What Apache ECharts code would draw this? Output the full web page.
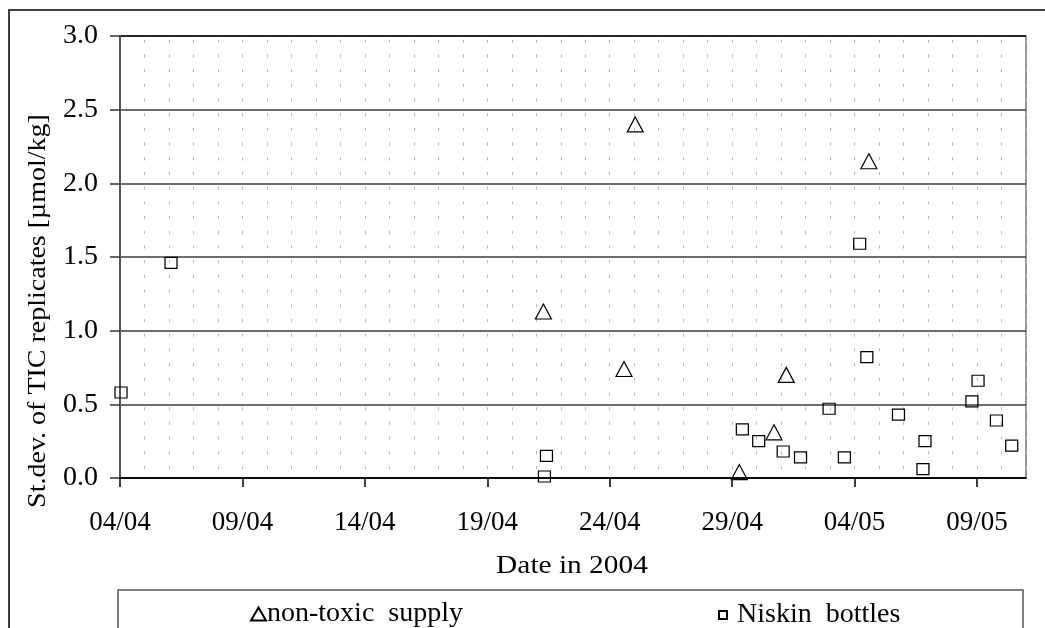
<!DOCTYPE html>
<html>
<head>
<meta charset="utf-8">
<script src="https://cdn.jsdelivr.net/npm/echarts@6/dist/echarts.min.js"></script>
<style>
  html, body { margin: 0; padding: 0; background: #fff; }
  #chart { width: 1045px; height: 628px; }
</style>
</head>
<body>
<div id="chart"></div>
<script>
// Sampling times (UTC) and standard deviations of TIC replicates [µmol/kg]
const supplyTimes = [
  '2004-04-21 07:00', '2004-04-24 14:00', '2004-04-25 01:00', '2004-04-29 07:00',
  '2004-04-30 17:00', '2004-05-01 05:00', '2004-05-04 14:00'
];
const supplyValues = [1.13, 0.74, 2.40, 0.04, 0.31, 0.70, 2.15];

const niskinTimes = [
  '2004-04-04 01:00', '2004-04-06 02:00', '2004-04-21 08:00', '2004-04-21 10:00',
  '2004-04-29 10:00', '2004-04-30 02:00', '2004-05-01 02:00', '2004-05-01 19:00',
  '2004-05-02 23:00', '2004-05-03 14:00', '2004-05-04 05:00', '2004-05-04 12:00',
  '2004-05-05 19:00', '2004-05-06 19:00', '2004-05-06 21:00', '2004-05-08 19:00',
  '2004-05-09 01:00', '2004-05-09 19:00', '2004-05-10 10:00'
];
const niskinValues = [
  0.58, 1.46, 0.01, 0.15,
  0.33, 0.25, 0.18, 0.14,
  0.47, 0.14, 1.59, 0.82,
  0.43, 0.06, 0.25, 0.52,
  0.66, 0.39, 0.22
];

const seriesNames = ['non-toxic  supply', 'Niskin  bottles'];
const xAxisTitle = 'Date in 2004';
const yAxisTitle = 'St.dev. of TIC replicates [µmol/kg]';

// x axis runs in days since 04/04/2004 00:00 UTC
const ORIGIN = Date.UTC(2004, 3, 4);
const DAY = 86400000;
const X_MAX_DAYS = 37; // 11/05

function dayOffset(s) {
  const [d, t] = s.split(' ');
  const [Y, M, D] = d.split('-').map(Number);
  const [h, m] = t.split(':').map(Number);
  return (Date.UTC(Y, M - 1, D, h, m) - ORIGIN) / DAY;
}
function dayLabel(v) {
  const dt = new Date(ORIGIN + v * DAY);
  const dd = String(dt.getUTCDate()).padStart(2, '0');
  const mm = String(dt.getUTCMonth() + 1).padStart(2, '0');
  return dd + '/' + mm;
}
const pair = (times, vals) => times.map((t, i) => [dayOffset(t), vals[i]]);

const FONT = '"Liberation Serif", "Times New Roman", serif';
const dotted = { color: '#b8b8b8', width: 1, type: [3, 11.7], dashOffset: 11 };

const chart = echarts.init(document.getElementById('chart'), null, { renderer: 'canvas' });
chart.setOption({
  animation: false,
  backgroundColor: '#fff',
  grid: {
    left: 120, right: 19, top: 36, bottom: 150,
    show: true, borderColor: '#777', borderWidth: 1.5, backgroundColor: 'transparent'
  },
  xAxis: {
    type: 'value',
    min: 0, max: X_MAX_DAYS, interval: 5,
    axisLine: { show: true, onZero: false, lineStyle: { color: '#000', width: 1.5 } },
    axisTick: { show: true, length: 9, lineStyle: { color: '#000', width: 1.5 } },
    axisLabel: {
      fontFamily: FONT, fontSize: 27, color: '#000', margin: 31,
      showMaxLabel: false,
      formatter: v => dayLabel(v)
    },
    splitLine: { show: true, lineStyle: dotted },
    minorTick: { show: false, splitNumber: 5 },
    minorSplitLine: { show: true, lineStyle: dotted }
  },
  yAxis: {
    type: 'value',
    min: 0, max: 3, interval: 0.5,
    axisLine: { show: true, lineStyle: { color: '#555', width: 2 } },
    axisTick: { show: true, length: 10, lineStyle: { color: '#333', width: 1.5 } },
    axisLabel: {
      fontFamily: FONT, fontSize: 28, color: '#000', margin: 22,
      formatter: v => v.toFixed(1)
    },
    splitLine: {
      show: true,
      lineStyle: {
        color: ['#000', '#3c3c3c', '#3c3c3c', '#3c3c3c', '#3c3c3c', '#3c3c3c', '#000'],
        width: 1.5
      }
    }
  },
  legend: [
    {
      data: [seriesNames[0]],
      left: 245, top: 595,
      itemWidth: 15, itemHeight: 13, itemGap: 0,
      textStyle: { fontFamily: FONT, fontSize: 28, color: '#000', padding: [0, 0, 0, -4] },
      selectedMode: false
    },
    {
      data: [seriesNames[1]],
      left: 713, top: 596,
      itemWidth: 8, itemHeight: 8, itemGap: 0,
      textStyle: { fontFamily: FONT, fontSize: 28, color: '#000', padding: [0, 0, 0, 5] },
      selectedMode: false
    }
  ],
  series: [
    {
      name: seriesNames[0],
      type: 'scatter',
      symbol: 'triangle',
      symbolSize: [16, 15],
      data: pair(supplyTimes, supplyValues),
      itemStyle: { color: 'rgba(255,255,255,0)', borderColor: '#000', borderWidth: 1.2, opacity: 1 },
      emphasis: { disabled: true },
      z: 5
    },
    {
      name: seriesNames[1],
      type: 'scatter',
      symbol: 'rect',
      symbolSize: [12, 11],
      data: pair(niskinTimes, niskinValues),
      itemStyle: { color: 'rgba(255,255,255,0)', borderColor: '#000', borderWidth: 1.2, opacity: 1 },
      emphasis: { disabled: true },
      z: 5
    }
  ],
  graphic: [
    // outer chart frame
    {
      type: 'rect', silent: true,
      shape: { x: 9, y: 10, width: 1100, height: 700 },
      style: { fill: 'none', stroke: '#000', lineWidth: 1.5 }
    },
    // legend frame
    {
      type: 'rect', silent: true,
      shape: { x: 118, y: 590, width: 905, height: 80 },
      style: { fill: 'none', stroke: '#555', lineWidth: 1.5 }
    },
    // y axis title
    {
      type: 'text', silent: true,
      x: 38, y: 311, rotation: Math.PI / 2, scaleX: 1.12,
      style: {
        text: yAxisTitle, font: '25px ' + FONT, fill: '#000',
        align: 'center', verticalAlign: 'middle'
      }
    },
    // x axis title
    {
      type: 'text', silent: true,
      x: 572, y: 566, scaleX: 1.13,
      style: {
        text: xAxisTitle, font: '26px ' + FONT, fill: '#000',
        align: 'center', verticalAlign: 'middle'
      }
    }
  ]
});
</script>
</body>
</html>
